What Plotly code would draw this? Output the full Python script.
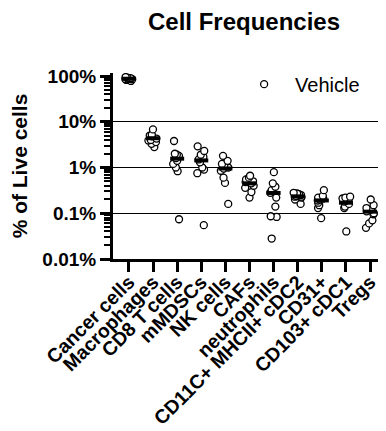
import numpy as np
import plotly.graph_objects as go

categories = ["Cancer cells", "Macrophages", "CD8 T cells", "mMDSCs", "NK cells", "CAFs",
              "neutrophils", "CD11C+ MHCII+ cDC2", "CD31+", "CD103+ cDC1", "Tregs"]

cancer_cells = [92, 88, 85, 90, 95, 87, 82, 78, 90, 86]
macrophages = [6.8, 5.2, 4.8, 4.3, 4.0, 3.9, 3.6, 3.3, 2.8, 5.0]
cd8_t_cells = [3.8, 2.0, 1.9, 1.8, 1.6, 1.4, 1.2, 1.0, 0.83, 0.074]
mmdscs = [2.9, 2.3, 1.9, 1.7, 1.5, 1.3, 1.0, 0.9, 0.75, 0.055]
nk_cells = [1.8, 1.4, 1.2, 1.1, 1.0, 0.95, 0.85, 0.6, 0.46, 0.16]
cafs = [0.66, 0.6, 0.55, 0.5, 0.48, 0.45, 0.4, 0.36, 0.29, 0.22]
neutrophils = [0.79, 0.45, 0.38, 0.32, 0.28, 0.22, 0.14, 0.086, 0.083, 0.028]
cdc2 = [0.28, 0.27, 0.26, 0.25, 0.24, 0.23, 0.23, 0.22, 0.2, 0.16]
cd31 = [0.32, 0.24, 0.22, 0.21, 0.2, 0.19, 0.17, 0.15, 0.13, 0.078]
cdc1 = [0.23, 0.22, 0.21, 0.2, 0.19, 0.18, 0.16, 0.14, 0.13, 0.04]
tregs = [0.2, 0.15, 0.13, 0.12, 0.11, 0.1, 0.095, 0.07, 0.06, 0.048]

series = [cancer_cells, macrophages, cd8_t_cells, mmdscs, nk_cells, cafs,
          neutrophils, cdc2, cd31, cdc1, tregs]

y_tick_vals = [0.01, 0.1, 1, 10, 100]
y_tick_text = ["0.01%", "0.1%", "1%", "10%", "100%"]
grid_vals = [0.1, 1, 10]

xs, ys = [], []
for c, vals in zip(categories, series):
    xs += [c] * len(vals)
    ys += vals
means = [float(np.mean(v)) for v in series]

FONT = "Liberation Sans, Arial, sans-serif"

fig = go.Figure()
fig.add_trace(go.Box(
    x=xs, y=ys, boxpoints="all", jitter=0.8, pointpos=0,
    fillcolor="rgba(0,0,0,0)", line=dict(color="rgba(0,0,0,0)", width=0),
    marker=dict(symbol="circle", color="white", size=7,
                line=dict(color="black", width=1.3)),
    showlegend=False, name="Vehicle",
))
fig.add_trace(go.Scatter(
    x=categories, y=means, mode="markers",
    marker=dict(symbol="line-ew", size=10, line=dict(color="black", width=4)),
    showlegend=False,
))
fig.add_trace(go.Scatter(
    x=[None], y=[None], mode="markers", name="Vehicle",
    marker=dict(symbol="circle", color="white", size=7,
                line=dict(color="black", width=1.3)),
))

minor_vals = [k * 10.0 ** e for e in range(-2, 2) for k in range(2, 10)]

# page body adds an 8px margin, so the figure is offset by 8px
fig.update_layout(
    width=378, height=423,
    margin=dict(l=105, r=0, t=65, b=172, autoexpand=False),
    paper_bgcolor="white", plot_bgcolor="white",
    font=dict(family=FONT, color="black"),
    title=dict(text="<b>Cell Frequencies</b>", x=236 / 378, xref="container", xanchor="center",
               y=1 - 14 / 423, yref="container", yanchor="middle",
               font=dict(size=24, family=FONT, color="black")),
    showlegend=True,
    legend=dict(x=0.44, y=1.045, xanchor="left", yanchor="top", bgcolor="rgba(0,0,0,0)",
                font=dict(size=20, family=FONT, color="black"), itemwidth=52),
    xaxis=dict(
        type="category", categoryorder="array", categoryarray=categories,
        range=[-0.66, 10.66], showline=True, linecolor="black", linewidth=3,
        ticks="outside", ticklen=10, tickwidth=2.5, tickcolor="black",
        tickangle=-45, tickfont=dict(size=19.5, family=FONT, color="black", weight="bold"),
        ticklabelstandoff=-9,
        showgrid=False, zeroline=False, automargin=False,
    ),
    yaxis=dict(
        type="log", range=[-2, 2.066], showline=True, linecolor="black", linewidth=3,
        tickmode="array", tickvals=y_tick_vals, ticktext=y_tick_text,
        ticks="outside", ticklen=10, tickwidth=3, tickcolor="black",
        tickfont=dict(size=19, family=FONT, color="black", weight="bold"),
        minor=dict(tickmode="array", tickvals=minor_vals, ticks="outside",
                   ticklen=6, tickwidth=2, tickcolor="black", showgrid=False),
        showgrid=False, zeroline=False, automargin=False,
        title=dict(text="<b>% of Live cells</b>", standoff=10,
                   font=dict(size=21, family=FONT, color="black")),
    ),
    yaxis2=dict(
        type="log", range=[-2, 2.066], overlaying="y", side="left",
        tickmode="array", tickvals=grid_vals, showticklabels=False, ticks="",
        showgrid=True, gridcolor="black", gridwidth=1.3, showline=False, zeroline=False,
        automargin=False,
    ),
)
fig.add_trace(go.Scatter(x=[None], y=[None], yaxis="y2", showlegend=False))

fig.write_html("out.html")
